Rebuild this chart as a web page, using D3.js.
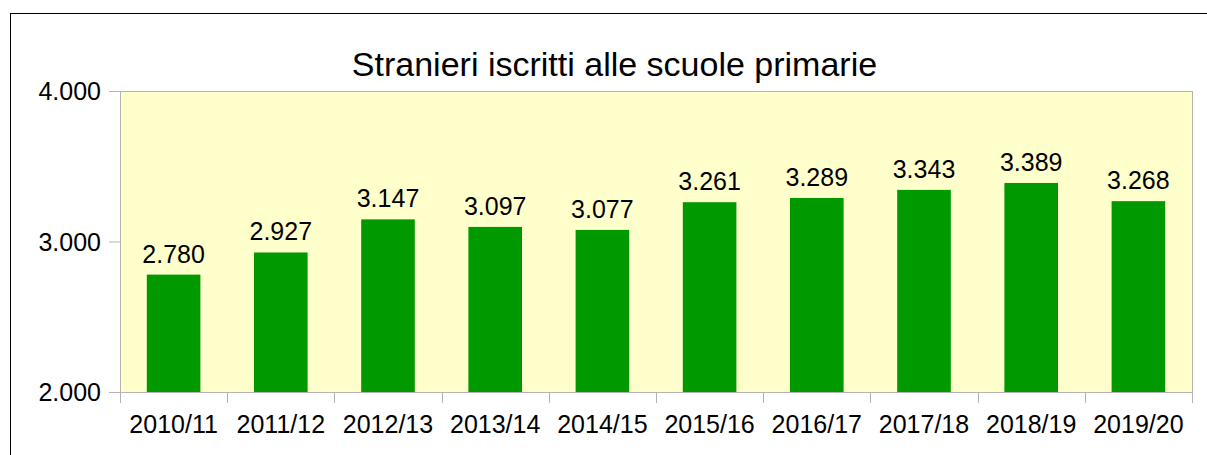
<!DOCTYPE html>
<html><head><meta charset="utf-8">
<script src="https://cdn.jsdelivr.net/npm/d3@7/dist/d3.min.js"></script>
<style>html,body{margin:0;padding:0;background:#fff;}svg{display:block;}</style>
</head><body>
<svg id="c" width="1207" height="455"></svg>
<script>
const categories = ["2010/11","2011/12","2012/13","2013/14","2014/15","2015/16","2016/17","2017/18","2018/19","2019/20"];
const values = [2780,2927,3147,3097,3077,3261,3289,3343,3389,3268];
const yTicks = [2000,3000,4000];
const title = "Stranieri iscritti alle scuole primarie";

const svg = d3.select("#c");
const font = "'Liberation Sans', Arial, sans-serif";
const L=120, R=1192, T=91, B=392;

svg.append("rect").attr("x",10.5).attr("y",13.5).attr("width",1220).attr("height",470)
  .attr("fill","#fff").attr("stroke","#000").attr("stroke-width",1);

const x = d3.scaleBand().domain(categories).range([L,R]).paddingInner(0).paddingOuter(0);
const y = d3.scaleLinear().domain([2000,4000]).range([B,T]);
const fmt = v => d3.format(",")(v).replace(/,/g,".");

svg.append("rect").attr("x",L).attr("y",T).attr("width",R-L).attr("height",B-T)
  .attr("fill","#ffffcc").attr("stroke","#b3b3b3").attr("stroke-width",1)
  .attr("shape-rendering","crispEdges");

svg.append("text").attr("x",614.5).attr("y",76).attr("text-anchor","middle")
  .attr("font-family",font).attr("font-size",34).attr("fill","#000").text(title);

const bw = x.bandwidth()*0.5;
svg.append("g").selectAll("rect").data(values).join("rect")
  .attr("x",(d,i)=>x(categories[i])+x.bandwidth()/2-bw/2)
  .attr("y",d=>y(d)).attr("width",bw).attr("height",d=>B-y(d))
  .attr("fill","#009900");

svg.append("g").selectAll("text").data(values).join("text")
  .attr("x",(d,i)=>x(categories[i])+x.bandwidth()/2)
  .attr("y",d=>y(d)-12).attr("text-anchor","middle")
  .attr("font-family",font).attr("font-size",25).attr("fill","#000").text(d=>fmt(d));

const yAxis = svg.append("g").attr("transform",`translate(${L},0)`)
  .call(d3.axisLeft(y).tickValues(yTicks).tickSize(11).tickPadding(8).tickFormat(fmt));
yAxis.select(".domain").attr("stroke","#b3b3b3");
yAxis.selectAll(".tick line").attr("stroke","#b3b3b3");
yAxis.selectAll(".tick text").attr("font-family",font).attr("font-size",25).attr("fill","#000").attr("dy","0.35em");

const xb = d3.scaleLinear().domain([0,categories.length]).range([L,R]);
const xTicksG = svg.append("g");
xTicksG.selectAll("line").data(d3.range(categories.length+1)).join("line")
  .attr("x1",d=>Math.round(xb(d))+0.5).attr("x2",d=>Math.round(xb(d))+0.5)
  .attr("y1",B).attr("y2",B+11).attr("stroke","#b3b3b3");
svg.append("line").attr("x1",L).attr("x2",R).attr("y1",B+0.5).attr("y2",B+0.5).attr("stroke","#b3b3b3");
svg.append("g").selectAll("text").data(categories).join("text")
  .attr("x",d=>x(d)+x.bandwidth()/2).attr("y",433).attr("text-anchor","middle")
  .attr("font-family",font).attr("font-size",25).attr("fill","#000").text(d=>d);
</script>
</body></html>
